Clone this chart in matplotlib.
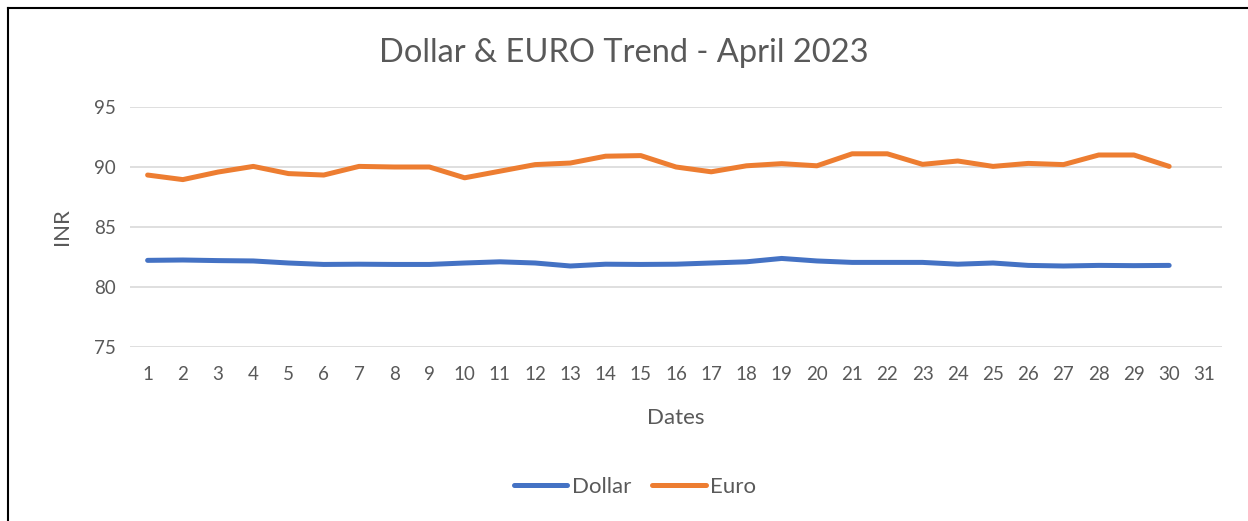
import matplotlib.pyplot as plt
from matplotlib.lines import Line2D

plt.rcParams["font.family"] = ["Lato", "DejaVu Sans"]

dates = list(range(1, 32))
tick_labels = [str(d) for d in dates]
dollar = [82.22, 82.25, 82.20, 82.17, 82.00, 81.88, 81.90, 81.88, 81.88, 82.00,
          82.10, 82.00, 81.75, 81.90, 81.88, 81.90, 82.00, 82.10, 82.38, 82.17,
          82.05, 82.05, 82.05, 81.90, 82.00, 81.80, 81.75, 81.80, 81.78, 81.80]
euro = [89.33, 88.95, 89.58, 90.05, 89.45, 89.33, 90.05, 90.00, 90.00, 89.10,
        89.65, 90.20, 90.33, 90.90, 90.95, 90.00, 89.60, 90.10, 90.28, 90.10,
        91.10, 91.10, 90.22, 90.50, 90.05, 90.30, 90.20, 91.00, 91.00, 90.05]

grey = "#595959"
fig = plt.figure(figsize=(12.48, 5.21), dpi=100)
ax = fig.add_axes([130/1248, 1-347/521, 1092/1248, 240/521])

ax.plot(dates[:len(dollar)], dollar, color="#4472C4", lw=3.6, solid_capstyle="round", label="Dollar")
ax.plot(dates[:len(euro)], euro, color="#ED7D31", lw=3.6, solid_capstyle="round", label="Euro")

ax.set_xlim(0.5, 31.5)
ax.set_ylim(75, 95)
ax.set_yticks([75, 80, 85, 90, 95])
ax.set_xticks(dates)
ax.set_xticklabels(tick_labels)
ax.grid(axis="y", color="#d9d9d9", lw=1.2)
ax.set_axisbelow(True)
for s in ax.spines.values():
    s.set_visible(False)
ax.tick_params(length=0, labelsize=13.5, labelcolor=grey, pad=14)
ax.tick_params(axis="y", pad=10)

ax.set_xlabel("Dates", fontsize=16, color=grey, labelpad=18)
ax.set_ylabel("INR", fontsize=16, color=grey, labelpad=16)
fig.text(0.5, 1-53/521, "Dollar & EURO Trend - April 2023", ha="center", va="center",
         fontsize=23.5, color=grey)

ax.legend(loc="center", bbox_to_anchor=(635/1248, 1-487/521), bbox_transform=fig.transFigure,
          ncol=2, frameon=False, fontsize=16, labelcolor=grey,
          handlelength=2.4, handletextpad=0.2, columnspacing=0.95)

# frame around the chart
fig.add_artist(Line2D([8/1248, 8/1248], [0, 1-8/521], color="black", lw=1.5))
fig.add_artist(Line2D([8/1248, 1], [1-8/521, 1-8/521], color="black", lw=1.5))

fig.savefig("out.png", dpi=100)
